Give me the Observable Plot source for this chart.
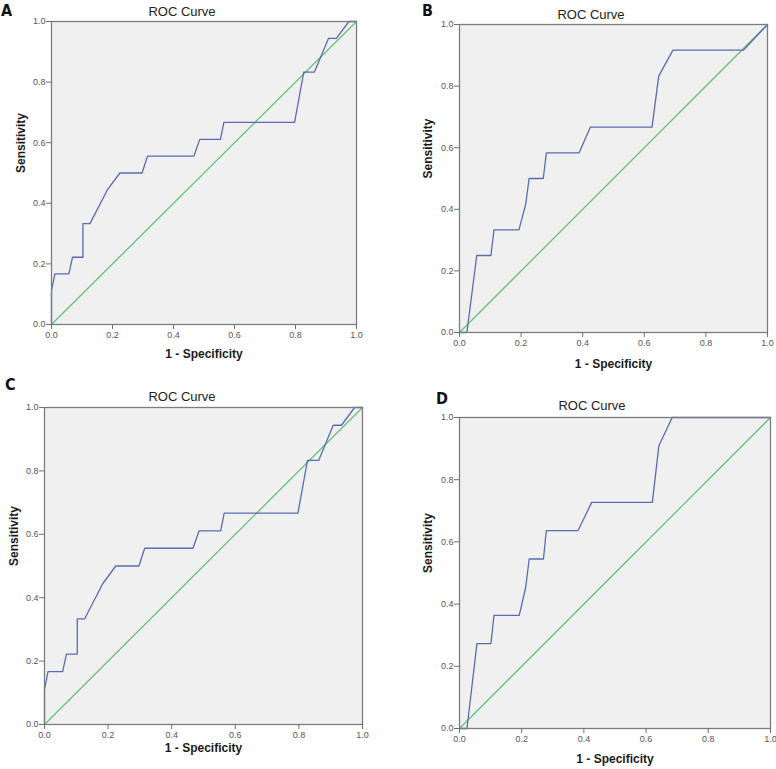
<!DOCTYPE html>
<html><head><meta charset="utf-8">
<script src="https://cdn.jsdelivr.net/npm/d3@7"></script>
<script src="https://cdn.jsdelivr.net/npm/@observablehq/plot@0.6"></script>
<style>
body{margin:0;background:#fff;}
#fig{position:relative;width:776px;height:769px;overflow:hidden;font-family:"Liberation Sans",Arial,sans-serif;background:#fff;}
.panel{position:absolute;}
.letter{position:absolute;font-family:"Liberation Sans Narrow","DejaVu Sans Condensed","Liberation Sans",sans-serif;font-weight:bold;font-size:16px;line-height:16px;color:#111;}
.title{position:absolute;font-size:13px;line-height:13px;color:#222;transform:translateX(-50%);white-space:nowrap;}
</style></head><body><div id="fig"></div>
<script>
// ---- data ----
const panelLetters = ["A", "B", "C", "D"];
const titleText = "ROC Curve";
const xLabel = "1 - Specificity";
const yLabel = "Sensitivity";
const tickValues = [0, 0.2, 0.4, 0.6, 0.8, 1.0];
const refLine = [0, 1];

const fprA = [0, 0, 0.011, 0.057, 0.069, 0.103, 0.103, 0.126, 0.183, 0.224, 0.297, 0.315, 0.467, 0.486, 0.554, 0.565, 0.797, 0.827, 0.862, 0.908, 0.934, 0.975, 1];
const tprA = [0, 0.111, 0.167, 0.167, 0.222, 0.222, 0.333, 0.333, 0.444, 0.5, 0.5, 0.556, 0.556, 0.611, 0.611, 0.667, 0.667, 0.833, 0.833, 0.944, 0.944, 1, 1];

const fprB = [0, 0.024, 0.056, 0.102, 0.112, 0.193, 0.215, 0.226, 0.272, 0.282, 0.388, 0.425, 0.625, 0.647, 0.693, 0.922, 1];
const tprB = [0, 0, 0.25, 0.25, 0.333, 0.333, 0.417, 0.5, 0.5, 0.583, 0.583, 0.667, 0.667, 0.833, 0.917, 0.917, 1];

const fprC = [0, 0, 0.011, 0.057, 0.069, 0.103, 0.103, 0.126, 0.183, 0.224, 0.297, 0.315, 0.467, 0.486, 0.554, 0.565, 0.797, 0.827, 0.862, 0.908, 0.934, 0.975, 1];
const tprC = [0, 0.111, 0.167, 0.167, 0.222, 0.222, 0.333, 0.333, 0.444, 0.5, 0.5, 0.556, 0.556, 0.611, 0.611, 0.667, 0.667, 0.833, 0.833, 0.944, 0.944, 1, 1];

const fprD = [0, 0.024, 0.056, 0.101, 0.111, 0.192, 0.213, 0.224, 0.27, 0.279, 0.381, 0.425, 0.62, 0.641, 0.684, 1];
const tprD = [0, 0, 0.273, 0.273, 0.364, 0.364, 0.455, 0.545, 0.545, 0.636, 0.636, 0.727, 0.727, 0.909, 1, 1];

// ---- layout / style ----
const blue = "#5b6bb2";
const green = "#62c276";
const panels = [
  {fpr: fprA, tpr: tprA, left: 0,   top: 0,   width: 380, height: 370, mL: 51, mR: 24, mT: 21, mB: 46, yOff: 35, xOff: 33,
   letter: {x: 1, y: 3}, title: {x: 182, y: 4.6}},
  {fpr: fprB, tpr: tprB, left: 390, top: 0,   width: 386, height: 375, mL: 69, mR: 9,  mT: 24, mB: 43, yOff: 36, xOff: 35,
   letter: {x: 422, y: 3}, title: {x: 591, y: 7.6}},
  {fpr: fprC, tpr: tprC, left: 0,   top: 385, width: 380, height: 384, mL: 44, mR: 18, mT: 22, mB: 45, yOff: 35, xOff: 27,
   letter: {x: 5, y: 377}, title: {x: 182, y: 390.3}},
  {fpr: fprD, tpr: tprD, left: 390, top: 385, width: 386, height: 384, mL: 69, mR: 6,  mT: 32, mB: 41, yOff: 36, xOff: 34,
   letter: {x: 436, y: 391}, title: {x: 592, y: 399.3}}
];

const fig = document.getElementById("fig");
const fmt = d3.format(".1f");

panels.forEach((p, i) => {
  const curve = p.fpr.map((x, j) => ({x, y: p.tpr[j]}));
  const chart = Plot.plot({
    width: p.width, height: p.height,
    marginLeft: p.mL, marginRight: p.mR, marginTop: p.mT, marginBottom: p.mB,
    style: {background: "transparent", fontFamily: "Liberation Sans, Arial, sans-serif", overflow: "visible"},
    x: {domain: [0, 1]},
    y: {domain: [0, 1]},
    marks: [
      Plot.frame({fill: "#f0f0f0"}),
      Plot.line(refLine, {x: d => d, y: d => d, stroke: green, strokeWidth: 1.3}),
      Plot.line(curve, {x: "x", y: "y", stroke: blue, strokeWidth: 1.3}),
      Plot.frame({stroke: "#7d7d7d", strokeWidth: 1.3}),
      Plot.axisX(tickValues, {tickFormat: fmt, tickSize: 5, tickPadding: 2, stroke: "#6f6f6f", fill: "#555", fontSize: 9, label: null}),
      Plot.axisY(tickValues, {tickFormat: fmt, tickSize: 5, tickPadding: 1, stroke: "#6f6f6f", fill: "#555", fontSize: 9, label: null}),
      Plot.text([xLabel], {text: d => d, frameAnchor: "bottom", dy: p.xOff, lineAnchor: "bottom", fontWeight: "bold", fontSize: 12, fill: "#1a1a1a"}),
      Plot.text([yLabel], {text: d => d, frameAnchor: "left", dx: -p.yOff, rotate: -90, lineAnchor: "top", fontWeight: "bold", fontSize: 12, fill: "#1a1a1a"})
    ]
  });
  chart.classList.add("panel");
  chart.style.left = p.left + "px";
  chart.style.top = p.top + "px";
  fig.appendChild(chart);

  const t = document.createElement("div");
  t.className = "title";
  t.textContent = titleText;
  t.style.left = p.title.x + "px";
  t.style.top = p.title.y + "px";
  fig.appendChild(t);

  const l = document.createElement("div");
  l.className = "letter";
  l.textContent = panelLetters[i];
  l.style.left = p.letter.x + "px";
  l.style.top = p.letter.y + "px";
  fig.appendChild(l);
});
</script></body></html>
